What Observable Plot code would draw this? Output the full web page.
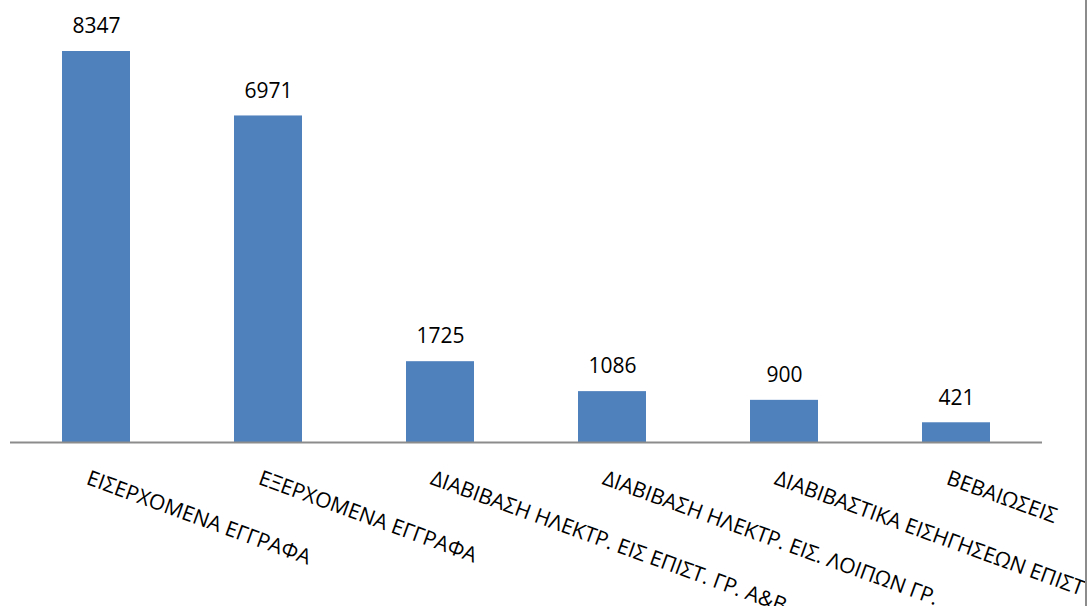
<!DOCTYPE html>
<html>
<head>
<meta charset="utf-8">
<script src="https://cdn.jsdelivr.net/npm/d3@7"></script>
<script src="https://cdn.jsdelivr.net/npm/@observablehq/plot@0.6"></script>
<style>
  html, body { margin: 0; padding: 0; background: #fff; overflow: hidden; }
  #wrap { position: relative; width: 1089px; height: 606px; }
  #edge { position: absolute; left: 1085px; top: 0; width: 2px; height: 606px; background: #8c8c8c; }
</style>
</head>
<body>
<div id="wrap"><div id="chart"></div><div id="edge"></div></div>
<script>
const categories = [
  "ΕΙΣΕΡΧΟΜΕΝΑ ΕΓΓΡΑΦΑ",
  "ΕΞΕΡΧΟΜΕΝΑ ΕΓΓΡΑΦΑ",
  "ΔΙΑΒΙΒΑΣΗ ΗΛΕΚΤΡ. ΕΙΣ ΕΠΙΣΤ. ΓΡ. Α&Β",
  "ΔΙΑΒΙΒΑΣΗ ΗΛΕΚΤΡ. ΕΙΣ. ΛΟΙΠΩΝ ΓΡ.",
  "ΔΙΑΒΙΒΑΣΤΙΚΑ ΕΙΣΗΓΗΣΕΩΝ ΕΠΙΣΤ",
  "ΒΕΒΑΙΩΣΕΙΣ"
];
const values = [8347, 6971, 1725, 1086, 900, 421];

const data = categories.map((c, i) => ({cat: c, value: values[i]}));

const chart = Plot.plot({
  width: 1089,
  height: 606,
  marginLeft: 10,
  marginRight: 47,
  marginTop: 51,
  marginBottom: 164,
  style: {fontFamily: "'Open Sans', sans-serif", background: "#fff", overflow: "visible"},
  x: {domain: categories, paddingInner: 0.605, paddingOuter: 0.3025, axis: null},
  y: {domain: [0, d3.max(values)], axis: null},
  marks: [
    Plot.barY(data, {x: "cat", y: "value", fill: "#4F81BD"}),
    Plot.ruleY([0], {stroke: "#8c8c8c", strokeWidth: 2}),
    Plot.text(data, {x: "cat", y: "value", text: d => String(d.value), dy: -25, fontSize: 21, fill: "#000"}),
    Plot.text(data, {x: "cat", y: 0, text: "cat", rotate: 20, textAnchor: "start", dx: -9, dy: 35, fontSize: 21, fill: "#000"})
  ]
});
document.getElementById("chart").appendChild(chart);
</script>
</body>
</html>
